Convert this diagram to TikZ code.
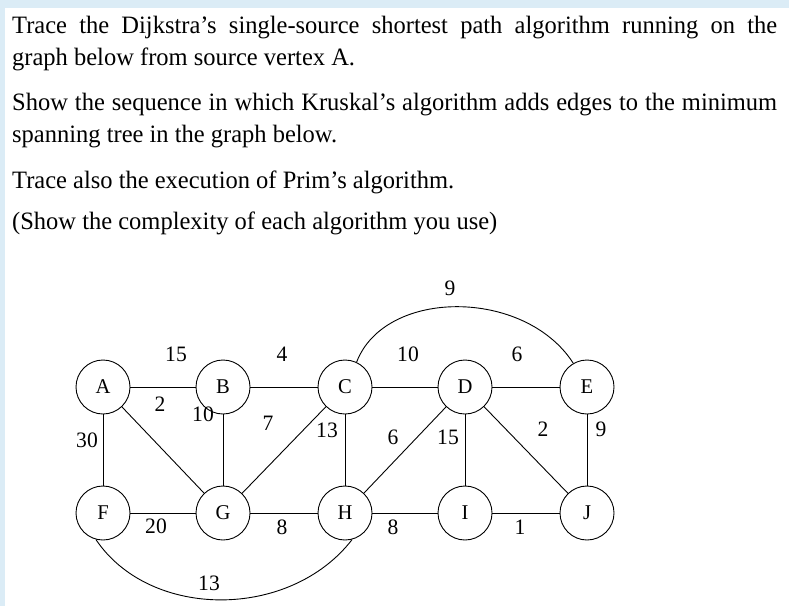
\documentclass[tikz,border=0pt]{standalone}
\usepackage{fontspec}
\setmainfont[FakeStretch=0.98]{Liberation Serif}
\definecolor{frame}{RGB}{219,236,246}
\begin{document}
\begin{tikzpicture}[x=1pt,y=-1pt,
  v/.style={circle,draw,line width=0.9pt,minimum size=54pt,inner sep=0pt,font=\fontsize{21}{21}\selectfont},
  w/.style={font=\fontsize{22}{22}\selectfont,inner sep=0pt},
  e/.style={line width=0.9pt},
  tl/.style={anchor=base west,inner sep=0pt,font=\fontsize{25}{25}\selectfont}]
\fill[frame] (0,0) rectangle (789,606);
\fill[white] (5,8) rectangle (789,606);
\useasboundingbox (0,0) rectangle (789,606);
\node[tl] (t1) at (12,33) {\makebox[765pt][s]{Trace the Dijkstra’s single-source shortest path algorithm running on the}};
\node[tl] (t2) at (12,65) {graph below from source vertex A.};
\node[tl] (t3) at (12,110) {\makebox[765pt][s]{Show the sequence in which Kruskal’s algorithm adds edges to the minimum}};
\node[tl] (t4) at (12,142) {spanning tree in the graph below.};
\node[tl] (t5) at (12,188) {Trace also the execution of Prim’s algorithm.};
\node[tl] (t6) at (12,229) {(Show the complexity of each algorithm you use)};
\node[v] (A) at (103,387) {A};
\node[v] (B) at (223,387) {B};
\node[v] (C) at (345,387) {C};
\node[v] (D) at (465,387) {D};
\node[v] (E) at (587,387) {E};
\node[v] (F) at (103,513) {F};
\node[v] (G) at (223,513) {G};
\node[v] (H) at (345,513) {H};
\node[v] (I) at (465,513) {I};
\node[v] (J) at (587,513) {J};
\draw[e] (A)--(B); \draw[e] (B)--(C); \draw[e] (C)--(D); \draw[e] (D)--(E);
\draw[e] (F)--(G); \draw[e] (G)--(H); \draw[e] (H)--(I); \draw[e] (I)--(J);
\draw[e] (A)--(F); \draw[e] (B)--(G); \draw[e] (C)--(H); \draw[e] (D)--(I); \draw[e] (E)--(J);
\draw[e] (A)--(G); \draw[e] (C)--(G); \draw[e] (D)--(H); \draw[e] (D)--(J);
\draw[e] (C.65) .. controls (385,288) and (525,288) .. (E.120);
\draw[e] (F.-105) .. controls (150,620) and (290,620) .. (H.-75);
\node[w] (w1) at (176,354) {15};
\node[w] (w2) at (282,354) {4};
\node[w] (w3) at (408,354) {10};
\node[w] (w4) at (517,354) {6};
\node[w] (w5) at (450,288) {9};
\node[w] (w6) at (160,404) {2};
\node[w] (w7) at (203,414) {10};
\node[w] (w8) at (268,423) {7};
\node[w] (w9) at (327,430) {13};
\node[w] (w10) at (393,437) {6};
\node[w] (w11) at (448,437) {15};
\node[w] (w12) at (543,429) {2};
\node[w] (w13) at (601,429) {9};
\node[w] (w14) at (87,440) {30};
\node[w] (w15) at (156,526) {20};
\node[w] (w16) at (282,527) {8};
\node[w] (w17) at (393,527) {8};
\node[w] (w18) at (520,527) {1};
\node[w] (w19) at (209,583) {13};
\end{tikzpicture}
\end{document}
